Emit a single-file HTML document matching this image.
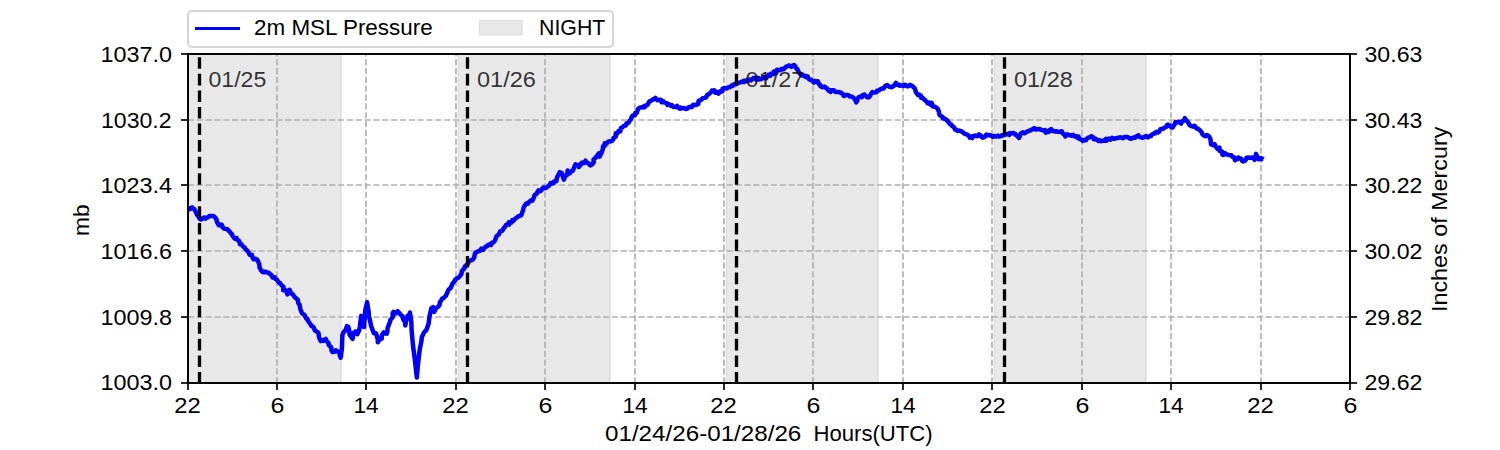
<!DOCTYPE html>
<html><head><meta charset="utf-8"><style>
html,body{margin:0;padding:0;background:#fff;width:1500px;height:450px;overflow:hidden}
svg{display:block}
text{font-family:"Liberation Sans", sans-serif;fill:#000}
</style></head><body>
<svg width="1500" height="450" viewBox="0 0 1500 450">
<rect x="0" y="0" width="1500" height="450" fill="#fff"/>
<rect x="187" y="54.0" width="155.10" height="329.50" fill="#e8e8e8"/>
<rect x="340" y="54.0" width="1" height="329.50" fill="#dddddd"/>
<rect x="458" y="54.0" width="153.10" height="329.50" fill="#e8e8e8"/>
<rect x="458" y="54.0" width="1" height="329.50" fill="#dddddd"/>
<rect x="609" y="54.0" width="1" height="329.50" fill="#dddddd"/>
<rect x="457" y="54.0" width="1" height="329.50" fill="#f4f4f4"/>
<rect x="726" y="54.0" width="153.10" height="329.50" fill="#e8e8e8"/>
<rect x="726" y="54.0" width="1" height="329.50" fill="#dddddd"/>
<rect x="877" y="54.0" width="1" height="329.50" fill="#dddddd"/>
<rect x="725" y="54.0" width="1" height="329.50" fill="#f4f4f4"/>
<rect x="994" y="54.0" width="153.10" height="329.50" fill="#e8e8e8"/>
<rect x="994" y="54.0" width="1" height="329.50" fill="#dddddd"/>
<rect x="1145" y="54.0" width="1" height="329.50" fill="#dddddd"/>
<rect x="993" y="54.0" width="1" height="329.50" fill="#f4f4f4"/>
<line x1="277" y1="382.5" x2="277" y2="54" stroke="#b0b0b0" stroke-width="1.67" stroke-dasharray="6.1667 2.6667" stroke-dashoffset="0.8"/>
<line x1="366" y1="382.5" x2="366" y2="54" stroke="#b0b0b0" stroke-width="1.67" stroke-dasharray="6.1667 2.6667" stroke-dashoffset="0.8"/>
<line x1="456" y1="382.5" x2="456" y2="54" stroke="#b0b0b0" stroke-width="1.67" stroke-dasharray="6.1667 2.6667" stroke-dashoffset="0.8"/>
<line x1="545" y1="382.5" x2="545" y2="54" stroke="#b0b0b0" stroke-width="1.67" stroke-dasharray="6.1667 2.6667" stroke-dashoffset="0.8"/>
<line x1="635" y1="382.5" x2="635" y2="54" stroke="#b0b0b0" stroke-width="1.67" stroke-dasharray="6.1667 2.6667" stroke-dashoffset="0.8"/>
<line x1="724" y1="382.5" x2="724" y2="54" stroke="#b0b0b0" stroke-width="1.67" stroke-dasharray="6.1667 2.6667" stroke-dashoffset="0.8"/>
<line x1="813" y1="382.5" x2="813" y2="54" stroke="#b0b0b0" stroke-width="1.67" stroke-dasharray="6.1667 2.6667" stroke-dashoffset="0.8"/>
<line x1="903" y1="382.5" x2="903" y2="54" stroke="#b0b0b0" stroke-width="1.67" stroke-dasharray="6.1667 2.6667" stroke-dashoffset="0.8"/>
<line x1="992" y1="382.5" x2="992" y2="54" stroke="#b0b0b0" stroke-width="1.67" stroke-dasharray="6.1667 2.6667" stroke-dashoffset="0.8"/>
<line x1="1082" y1="382.5" x2="1082" y2="54" stroke="#b0b0b0" stroke-width="1.67" stroke-dasharray="6.1667 2.6667" stroke-dashoffset="0.8"/>
<line x1="1171" y1="382.5" x2="1171" y2="54" stroke="#b0b0b0" stroke-width="1.67" stroke-dasharray="6.1667 2.6667" stroke-dashoffset="0.8"/>
<line x1="1261" y1="382.5" x2="1261" y2="54" stroke="#b0b0b0" stroke-width="1.67" stroke-dasharray="6.1667 2.6667" stroke-dashoffset="0.8"/>
<line x1="187.5" y1="317" x2="1350" y2="317" stroke="#b0b0b0" stroke-width="1.67" stroke-dasharray="6.1667 2.6667" stroke-dashoffset="-0.4"/>
<line x1="187.5" y1="251" x2="1350" y2="251" stroke="#b0b0b0" stroke-width="1.67" stroke-dasharray="6.1667 2.6667" stroke-dashoffset="-0.4"/>
<line x1="187.5" y1="185" x2="1350" y2="185" stroke="#b0b0b0" stroke-width="1.67" stroke-dasharray="6.1667 2.6667" stroke-dashoffset="-0.4"/>
<line x1="187.5" y1="120" x2="1350" y2="120" stroke="#b0b0b0" stroke-width="1.67" stroke-dasharray="6.1667 2.6667" stroke-dashoffset="-0.4"/>
<path d="M189.30,206.00 L189.72,209.23 L191.24,207.91 L192.06,207.40 L192.64,208.37 L193.96,208.85 L195.31,210.75 L197.18,215.02 L197.83,215.49 L199.77,218.88 L200.82,219.47 L202.80,218.24 L203.94,218.30 L204.13,217.46 L205.54,218.67 L206.49,217.83 L208.37,217.04 L209.38,216.04 L209.93,215.92 L212.26,215.97 L213.00,215.89 L214.58,216.91 L216.47,219.44 L216.94,221.81 L218.74,225.13 L220.37,224.53 L222.07,224.86 L222.30,227.13 L223.01,227.41 L223.96,228.67 L226.22,229.13 L227.50,229.22 L228.31,230.51 L229.46,231.34 L231.21,233.54 L231.96,234.06 L232.65,236.14 L234.94,238.78 L236.55,238.09 L237.18,239.80 L237.94,240.22 L239.17,241.16 L239.99,244.29 L241.44,244.24 L243.19,246.72 L244.03,246.89 L246.10,249.59 L247.86,251.30 L248.32,252.06 L249.77,254.85 L252.07,255.00 L252.15,256.94 L253.57,259.27 L255.24,258.78 L255.41,259.12 L257.09,259.45 L259.16,263.72 L259.59,267.56 L260.98,270.32 L262.49,272.09 L263.60,272.31 L263.98,271.60 L264.67,272.30 L265.94,271.71 L267.51,272.58 L269.06,273.00 L269.86,273.87 L271.36,275.00 L272.57,277.47 L274.83,277.23 L275.58,279.01 L277.08,279.87 L278.99,282.88 L279.51,282.86 L280.04,283.12 L281.55,285.25 L283.43,286.79 L283.24,290.29 L285.15,289.86 L286.27,290.93 L287.34,294.35 L289.23,292.08 L289.62,289.71 L290.57,292.36 L292.25,294.15 L293.03,294.69 L295.13,297.70 L296.53,298.64 L297.81,299.83 L298.14,302.74 L299.62,305.06 L300.37,309.01 L302.01,313.32 L304.63,315.02 L306.10,318.44 L307.63,319.30 L307.93,320.85 L309.36,322.65 L311.52,326.03 L313.34,326.95 L314.37,329.16 L314.79,330.35 L317.43,332.12 L318.50,332.95 L319.04,337.34 L320.73,341.06 L323.25,339.94 L323.84,340.92 L325.86,338.97 L326.14,340.40 L328.61,343.31 L328.63,344.82 L331.24,347.45 L331.49,350.21 L332.41,352.03 L335.20,351.53 L335.94,350.25 L337.29,351.62 L339.42,351.66 L339.60,354.44 L340.68,357.69 L341.91,348.52 L342.41,334.90 L343.77,331.91 L345.13,330.89 L345.87,328.92 L347.00,326.07 L348.34,326.94 L349.20,330.30 L349.51,334.66 L350.78,336.29 L352.66,338.82 L353.42,332.74 L355.09,332.63 L355.67,331.43 L357.30,334.21 L359.14,330.37 L359.80,326.57 L361.26,315.88 L361.63,319.01 L362.32,322.42 L363.07,324.07 L363.96,326.97 L365.32,309.53 L366.71,304.47 L367.10,302.28 L368.84,313.20 L368.69,316.52 L369.62,318.73 L371.02,325.67 L373.45,332.17 L373.80,333.13 L375.96,333.21 L377.61,338.68 L377.85,342.30 L379.49,339.62 L381.78,338.73 L381.81,335.20 L383.72,332.35 L384.51,333.30 L386.66,333.64 L387.39,331.57 L387.53,328.33 L389.90,322.03 L390.30,320.07 L392.76,317.04 L392.67,313.13 L393.56,311.91 L394.63,312.49 L395.98,313.34 L397.71,311.04 L397.74,311.62 L399.76,313.44 L400.34,314.33 L402.65,316.49 L403.02,318.96 L405.02,322.01 L405.23,325.48 L406.11,321.15 L407.63,315.65 L409.08,315.59 L409.93,312.48 L411.34,322.07 L411.68,331.26 L412.98,345.34 L414.80,359.57 L416.82,377.54 L417.60,368.29 L418.56,358.94 L419.80,348.93 L421.37,341.41 L421.85,336.94 L424.40,331.83 L425.31,331.22 L425.89,330.77 L426.83,328.71 L428.65,323.41 L429.45,316.73 L431.33,308.30 L432.20,307.66 L432.99,307.19 L434.31,311.83 L435.94,308.36 L437.00,307.65 L439.59,305.08 L439.88,302.13 L441.14,300.61 L442.15,298.58 L443.65,298.04 L446.11,295.45 L446.27,294.70 L447.70,291.68 L448.53,289.74 L450.61,288.01 L451.50,286.01 L452.51,283.48 L453.99,282.10 L455.27,279.60 L457.04,278.39 L458.84,277.36 L460.25,275.65 L461.35,274.13 L461.97,270.92 L464.08,268.53 L464.79,267.85 L464.84,266.50 L467.33,264.28 L468.17,263.35 L468.32,261.39 L470.01,260.74 L471.84,260.07 L472.83,259.56 L474.29,257.13 L474.87,253.67 L475.71,252.69 L476.67,252.04 L478.74,251.08 L480.20,250.70 L481.33,248.71 L483.18,249.85 L484.03,248.55 L485.60,246.70 L487.05,246.28 L487.32,245.48 L489.69,244.35 L491.03,245.05 L491.97,242.74 L493.27,242.40 L494.99,240.49 L496.06,237.54 L496.54,236.16 L498.73,234.67 L499.69,232.43 L500.12,231.39 L502.34,230.72 L503.58,228.24 L504.59,227.36 L505.77,225.34 L507.71,224.26 L509.11,224.62 L508.83,222.31 L511.53,222.55 L512.36,220.13 L513.40,220.74 L514.82,219.06 L516.13,218.05 L518.75,216.09 L519.86,215.82 L521.29,215.15 L521.57,214.47 L523.18,209.59 L523.61,207.65 L525.52,204.26 L526.27,203.46 L527.79,203.65 L528.52,202.55 L531.10,200.26 L532.48,200.67 L533.91,197.37 L534.53,195.23 L537.00,193.30 L537.33,192.07 L538.54,190.36 L539.61,191.21 L541.26,190.56 L542.33,188.32 L543.88,187.38 L544.80,188.30 L546.94,187.16 L547.86,186.56 L549.68,184.93 L550.65,183.01 L552.02,183.39 L553.40,183.32 L554.01,181.51 L556.38,181.18 L556.76,178.56 L557.58,176.33 L559.76,172.17 L560.60,172.56 L561.79,173.07 L562.47,175.26 L563.83,179.59 L565.43,175.62 L567.22,174.86 L567.62,170.51 L568.51,171.75 L570.05,173.10 L571.02,171.47 L572.68,170.85 L574.10,167.81 L574.56,166.40 L575.50,164.34 L576.10,164.88 L578.65,165.21 L579.01,166.99 L580.68,164.74 L580.83,163.48 L582.14,162.58 L584.36,163.00 L585.56,160.71 L585.55,161.76 L588.28,163.24 L589.14,164.20 L590.16,165.37 L592.19,164.35 L593.76,162.15 L593.47,159.47 L595.24,158.17 L597.01,155.79 L597.89,154.88 L598.93,153.41 L599.56,156.62 L601.01,153.82 L602.80,149.37 L603.10,146.15 L604.72,145.94 L604.68,143.35 L606.51,143.83 L607.47,142.39 L608.99,141.27 L609.68,141.61 L612.07,140.88 L613.28,139.38 L613.58,137.74 L615.74,136.75 L615.69,133.25 L617.33,133.35 L618.54,131.10 L620.27,131.24 L620.89,127.95 L622.39,127.48 L624.27,125.66 L625.78,125.53 L626.44,123.45 L628.32,122.79 L629.21,121.71 L629.35,121.11 L630.57,119.76 L631.99,116.31 L632.88,115.49 L634.91,115.34 L635.41,112.79 L636.84,112.74 L638.06,108.91 L639.26,107.87 L641.94,107.14 L642.85,107.39 L644.34,105.92 L644.32,107.26 L646.39,105.27 L647.60,104.70 L648.46,103.26 L649.47,101.21 L650.82,100.97 L653.08,99.47 L654.27,98.66 L654.47,99.01 L655.52,97.85 L655.60,98.62 L657.45,100.27 L658.48,99.73 L660.94,99.67 L661.49,102.25 L663.39,101.42 L663.56,102.34 L666.32,103.12 L667.40,104.88 L668.09,103.85 L670.43,104.96 L670.64,105.68 L672.06,105.21 L672.88,106.76 L675.67,106.99 L677.16,105.99 L677.47,107.31 L680.08,108.70 L680.62,107.49 L682.14,108.35 L684.38,108.00 L685.64,108.94 L687.14,108.74 L688.25,107.48 L689.25,107.28 L691.45,106.37 L691.84,107.03 L693.25,104.69 L694.23,104.94 L696.02,105.06 L698.26,103.90 L698.62,100.73 L699.70,100.47 L702.04,99.18 L702.59,98.20 L704.53,97.84 L706.06,97.30 L707.24,94.79 L708.85,94.25 L709.76,93.25 L711.38,91.69 L711.95,90.61 L713.15,90.85 L714.13,90.32 L715.17,92.65 L716.68,91.84 L718.49,93.64 L720.11,91.43 L720.61,92.00 L722.52,91.21 L722.56,88.85 L724.03,88.10 L726.74,88.44 L728.01,87.46 L729.25,87.11 L729.62,87.31 L732.05,85.29 L732.83,85.88 L733.57,84.79 L734.79,83.89 L736.31,84.22 L738.26,82.95 L738.56,82.82 L740.95,82.11 L741.68,81.75 L743.77,82.11 L743.94,80.72 L745.81,81.31 L747.54,79.90 L748.12,80.83 L749.86,79.52 L751.03,80.33 L752.37,78.81 L753.77,77.82 L755.91,79.27 L756.43,77.68 L758.34,77.87 L758.51,79.58 L760.52,79.12 L761.83,78.98 L763.26,77.12 L763.88,77.69 L766.23,78.20 L766.44,76.90 L767.99,75.98 L768.73,74.82 L770.33,75.64 L771.01,73.88 L773.47,74.13 L773.84,71.48 L776.37,72.55 L776.97,69.72 L779.01,70.10 L780.30,70.26 L781.49,68.90 L782.76,68.69 L783.65,69.24 L785.83,66.95 L786.35,66.60 L788.33,65.74 L789.05,65.44 L791.36,66.87 L791.62,66.14 L794.11,64.98 L795.34,66.26 L796.06,68.31 L797.20,68.87 L798.21,71.28 L799.55,73.25 L800.91,74.56 L801.58,75.48 L803.66,75.16 L805.44,76.88 L806.29,76.08 L807.66,76.44 L808.26,78.32 L809.35,79.52 L811.17,79.81 L812.52,81.08 L813.85,82.61 L814.67,81.02 L815.83,81.73 L817.72,81.20 L818.91,84.15 L820.05,84.81 L820.53,86.24 L822.35,87.24 L824.37,86.56 L825.16,86.95 L825.10,87.44 L827.31,88.78 L828.63,90.80 L829.83,90.37 L830.65,91.92 L831.51,90.33 L833.31,90.30 L833.91,90.15 L835.46,91.96 L837.64,92.02 L838.17,91.93 L839.23,92.22 L841.22,92.69 L842.75,93.97 L843.43,95.54 L844.01,96.04 L846.19,94.99 L847.80,94.96 L849.44,95.91 L849.78,96.58 L851.41,96.61 L853.39,97.66 L855.01,99.43 L856.22,102.36 L857.31,100.51 L858.05,97.90 L858.78,97.08 L860.89,96.55 L861.87,97.22 L862.41,95.40 L864.39,94.60 L864.50,94.98 L865.80,95.89 L867.13,97.28 L868.84,97.35 L870.20,95.59 L870.72,94.26 L872.37,92.01 L873.61,92.56 L876.33,92.36 L877.06,90.70 L877.92,91.02 L880.30,89.37 L881.93,88.58 L883.72,88.41 L883.94,87.99 L884.93,86.37 L886.83,84.92 L887.59,85.31 L888.87,86.46 L891.71,87.21 L891.84,87.06 L893.66,85.96 L895.48,83.76 L896.00,82.86 L896.92,84.70 L899.43,84.85 L899.53,85.68 L902.05,85.38 L903.39,85.90 L903.90,84.99 L905.25,84.71 L906.76,86.13 L908.67,86.20 L910.04,84.79 L910.89,85.39 L912.36,85.82 L912.62,86.31 L914.74,88.38 L915.61,90.93 L915.94,92.42 L918.04,94.98 L919.37,94.62 L920.91,95.62 L921.06,97.72 L922.86,98.07 L924.09,99.53 L924.95,100.05 L926.67,101.79 L927.60,103.19 L928.96,102.60 L929.54,103.62 L930.47,104.58 L931.73,102.96 L932.87,106.59 L934.45,106.51 L935.25,106.79 L937.61,108.59 L938.97,111.82 L939.31,114.50 L940.96,116.00 L942.86,117.16 L942.83,118.11 L945.36,119.28 L945.40,119.00 L946.73,119.98 L949.23,123.04 L950.21,124.42 L951.54,124.73 L952.01,125.82 L954.39,127.55 L955.01,129.53 L955.87,129.56 L957.63,130.97 L959.11,130.51 L961.40,131.31 L962.56,131.96 L962.58,132.18 L964.56,133.63 L965.75,134.15 L967.16,134.61 L968.78,135.87 L969.81,137.57 L969.68,136.99 L972.07,138.05 L972.03,136.33 L973.99,136.35 L974.82,135.51 L976.41,136.08 L977.59,136.15 L978.95,134.37 L980.95,135.66 L981.34,136.63 L982.63,137.63 L984.97,136.63 L986.20,134.68 L987.08,135.20 L989.09,134.96 L990.32,135.26 L990.23,135.63 L992.34,136.00 L992.83,136.84 L993.91,135.91 L995.71,136.56 L997.38,136.32 L998.06,135.62 L999.09,136.55 L1001.24,136.13 L1001.79,135.27 L1004.10,135.37 L1004.40,134.92 L1006.96,134.14 L1007.19,134.00 L1009.35,134.92 L1009.81,133.12 L1011.30,133.22 L1012.89,132.95 L1013.72,133.12 L1015.91,134.40 L1015.66,135.02 L1016.66,135.40 L1019.07,137.95 L1019.81,136.06 L1020.08,135.40 L1021.07,133.35 L1023.02,132.30 L1024.54,133.29 L1026.51,131.98 L1027.91,131.22 L1028.45,130.88 L1030.20,130.53 L1032.33,129.20 L1033.12,129.25 L1034.20,128.10 L1036.01,129.54 L1037.41,129.14 L1038.86,129.10 L1039.81,129.00 L1040.56,129.78 L1041.50,129.72 L1043.87,130.77 L1044.91,130.15 L1045.88,132.60 L1047.37,131.65 L1048.63,131.95 L1049.02,130.49 L1051.15,129.06 L1052.01,130.84 L1052.61,130.40 L1054.13,131.42 L1056.70,131.34 L1056.69,131.46 L1058.72,131.78 L1059.99,131.61 L1061.83,131.35 L1062.33,133.29 L1063.19,133.71 L1064.65,134.88 L1065.40,136.37 L1067.23,134.32 L1068.56,135.08 L1069.60,135.12 L1071.71,135.74 L1073.06,134.78 L1074.21,136.33 L1076.70,136.36 L1076.90,137.46 L1078.53,136.67 L1079.21,138.81 L1081.40,139.40 L1081.95,140.14 L1082.74,140.85 L1084.12,139.96 L1086.03,140.17 L1086.65,138.85 L1088.11,137.61 L1089.90,137.25 L1091.26,136.19 L1091.84,136.82 L1093.25,137.34 L1093.90,139.19 L1095.68,138.81 L1097.05,139.99 L1098.59,141.00 L1099.75,140.20 L1100.99,141.08 L1100.92,140.92 L1103.62,140.72 L1103.72,140.73 L1105.85,138.83 L1106.19,140.79 L1108.55,139.15 L1109.00,138.54 L1110.55,139.56 L1112.07,137.81 L1114.30,138.84 L1114.46,138.69 L1116.50,138.07 L1117.93,137.94 L1119.46,137.45 L1119.85,137.32 L1121.72,137.63 L1122.91,138.14 L1124.44,136.98 L1125.26,136.91 L1127.01,136.93 L1128.31,137.32 L1129.69,138.30 L1131.10,138.76 L1131.58,138.38 L1133.65,137.44 L1135.30,137.72 L1136.17,136.45 L1138.44,135.37 L1139.25,136.72 L1139.61,136.77 L1141.99,137.60 L1142.76,137.83 L1144.38,136.85 L1146.34,135.97 L1147.38,137.04 L1148.11,137.33 L1149.49,136.24 L1150.99,136.07 L1151.74,134.51 L1153.33,133.94 L1155.22,132.54 L1155.82,133.09 L1156.65,131.88 L1157.99,132.50 L1159.57,131.18 L1160.39,129.22 L1161.68,128.89 L1163.56,128.65 L1163.94,127.83 L1166.64,126.76 L1166.64,125.54 L1167.91,124.62 L1170.47,126.21 L1171.15,127.27 L1172.66,127.55 L1173.29,126.05 L1174.51,124.45 L1175.59,122.07 L1176.92,122.61 L1178.42,121.82 L1178.84,121.68 L1181.14,123.61 L1182.28,121.08 L1183.88,120.66 L1184.80,118.17 L1185.72,119.86 L1187.08,121.21 L1188.93,123.65 L1189.29,124.85 L1190.56,125.86 L1193.13,126.63 L1194.64,126.12 L1194.52,125.75 L1196.78,128.53 L1198.74,129.08 L1199.16,129.82 L1200.86,131.17 L1201.41,131.83 L1202.51,134.40 L1204.04,135.70 L1205.34,136.16 L1206.76,134.96 L1209.05,136.13 L1210.57,139.56 L1210.98,144.40 L1213.28,145.22 L1214.53,144.15 L1215.61,146.16 L1216.57,147.65 L1217.47,148.72 L1219.45,147.63 L1219.52,150.86 L1222.01,151.44 L1222.40,154.70 L1223.39,154.99 L1225.12,153.23 L1226.15,154.36 L1227.48,154.59 L1228.23,154.85 L1229.81,155.15 L1231.47,155.29 L1232.32,156.73 L1234.25,157.73 L1234.67,157.64 L1234.90,160.14 L1237.43,158.92 L1238.33,157.53 L1240.59,158.95 L1241.21,158.73 L1242.16,160.93 L1243.30,161.41 L1244.89,160.95 L1246.44,158.67 L1246.38,157.70 L1248.28,157.49 L1249.94,157.95 L1249.73,157.63 L1252.00,157.51 L1252.82,157.40 L1254.46,159.78 L1255.40,157.86 L1256.05,153.89 L1257.64,157.30 L1258.32,159.05 L1260.64,158.14 L1261.27,159.34 L1262.19,158.53 L1263.40,159.40" fill="none" stroke="#0000ff" stroke-width="4.5" stroke-linejoin="round" stroke-linecap="butt"/>
<line x1="199.5" y1="383.5" x2="199.5" y2="54" stroke="#000" stroke-width="3.3" stroke-dasharray="11.56 5"/>
<line x1="467.5" y1="383.5" x2="467.5" y2="54" stroke="#000" stroke-width="3.3" stroke-dasharray="11.56 5"/>
<line x1="736.5" y1="383.5" x2="736.5" y2="54" stroke="#000" stroke-width="3.3" stroke-dasharray="11.56 5"/>
<line x1="1004.5" y1="383.5" x2="1004.5" y2="54" stroke="#000" stroke-width="3.3" stroke-dasharray="11.56 5"/>
<rect x="187" y="53" width="2" height="331" fill="#050505"/>
<rect x="1349" y="53" width="2" height="331" fill="#050505"/>
<rect x="187" y="53" width="1164" height="2" fill="#050505"/>
<rect x="187" y="382" width="1164" height="2" fill="#050505"/>
<rect x="187" y="384" width="2" height="6" fill="#2a2a2a"/>
<rect x="276" y="384" width="2" height="6" fill="#2a2a2a"/>
<rect x="365" y="384" width="2" height="6" fill="#2a2a2a"/>
<rect x="455" y="384" width="2" height="6" fill="#2a2a2a"/>
<rect x="544" y="384" width="2" height="6" fill="#2a2a2a"/>
<rect x="634" y="384" width="2" height="6" fill="#2a2a2a"/>
<rect x="723" y="384" width="2" height="6" fill="#2a2a2a"/>
<rect x="812" y="384" width="2" height="6" fill="#2a2a2a"/>
<rect x="902" y="384" width="2" height="6" fill="#2a2a2a"/>
<rect x="991" y="384" width="2" height="6" fill="#2a2a2a"/>
<rect x="1081" y="384" width="2" height="6" fill="#2a2a2a"/>
<rect x="1170" y="384" width="2" height="6" fill="#2a2a2a"/>
<rect x="1260" y="384" width="2" height="6" fill="#2a2a2a"/>
<rect x="1349" y="384" width="2" height="6" fill="#2a2a2a"/>
<rect x="181" y="382" width="6" height="2" fill="#2a2a2a"/>
<rect x="1351" y="382" width="6" height="2" fill="#2a2a2a"/>
<rect x="181" y="316" width="6" height="2" fill="#2a2a2a"/>
<rect x="1351" y="316" width="6" height="2" fill="#2a2a2a"/>
<rect x="181" y="250" width="6" height="2" fill="#2a2a2a"/>
<rect x="1351" y="250" width="6" height="2" fill="#2a2a2a"/>
<rect x="181" y="184" width="6" height="2" fill="#2a2a2a"/>
<rect x="1351" y="184" width="6" height="2" fill="#2a2a2a"/>
<rect x="181" y="119" width="6" height="2" fill="#2a2a2a"/>
<rect x="1351" y="119" width="6" height="2" fill="#2a2a2a"/>
<rect x="181" y="53" width="6" height="2" fill="#2a2a2a"/>
<rect x="1351" y="53" width="6" height="2" fill="#2a2a2a"/>
<rect x="188" y="11" width="425" height="36" rx="4" ry="4" fill="#fff" fill-opacity="0.8" stroke="#d6d6d6" stroke-width="2"/>
<rect x="195" y="27" width="45" height="3" fill="#0000ff"/>
<rect x="479" y="20" width="43.5" height="15.3" fill="#e8e8e8"/>
<rect x="479" y="20" width="42.5" height="14.3" fill="none" stroke="#dddddd" stroke-width="1" transform="translate(0.5,0.5) scale(1)" />
<text x="187.50" y="413.00" font-size="22.70" textLength="26.40" lengthAdjust="spacingAndGlyphs" text-anchor="middle">22</text>
<text x="277.50" y="413.00" font-size="22.70" textLength="13.89" lengthAdjust="spacingAndGlyphs" text-anchor="middle">6</text>
<text x="366.00" y="413.00" font-size="22.70" textLength="25.25" lengthAdjust="spacingAndGlyphs" text-anchor="middle">14</text>
<text x="455.50" y="413.00" font-size="22.70" textLength="26.40" lengthAdjust="spacingAndGlyphs" text-anchor="middle">22</text>
<text x="545.50" y="413.00" font-size="22.70" textLength="13.89" lengthAdjust="spacingAndGlyphs" text-anchor="middle">6</text>
<text x="635.00" y="413.00" font-size="22.70" textLength="25.25" lengthAdjust="spacingAndGlyphs" text-anchor="middle">14</text>
<text x="723.50" y="413.00" font-size="22.70" textLength="26.40" lengthAdjust="spacingAndGlyphs" text-anchor="middle">22</text>
<text x="813.50" y="413.00" font-size="22.70" textLength="13.89" lengthAdjust="spacingAndGlyphs" text-anchor="middle">6</text>
<text x="903.00" y="413.00" font-size="22.70" textLength="25.25" lengthAdjust="spacingAndGlyphs" text-anchor="middle">14</text>
<text x="992.50" y="413.00" font-size="22.70" textLength="26.40" lengthAdjust="spacingAndGlyphs" text-anchor="middle">22</text>
<text x="1082.50" y="413.00" font-size="22.70" textLength="13.89" lengthAdjust="spacingAndGlyphs" text-anchor="middle">6</text>
<text x="1171.00" y="413.00" font-size="22.70" textLength="25.25" lengthAdjust="spacingAndGlyphs" text-anchor="middle">14</text>
<text x="1260.50" y="413.00" font-size="22.70" textLength="26.40" lengthAdjust="spacingAndGlyphs" text-anchor="middle">22</text>
<text x="1350.50" y="413.00" font-size="22.70" textLength="13.89" lengthAdjust="spacingAndGlyphs" text-anchor="middle">6</text>
<text x="172.00" y="390.00" font-size="22.70" textLength="71.48" lengthAdjust="spacingAndGlyphs" text-anchor="end">1003.0</text>
<text x="172.00" y="325.00" font-size="22.70" textLength="71.48" lengthAdjust="spacingAndGlyphs" text-anchor="end">1009.8</text>
<text x="172.00" y="259.00" font-size="22.70" textLength="71.48" lengthAdjust="spacingAndGlyphs" text-anchor="end">1016.6</text>
<text x="172.00" y="193.00" font-size="22.70" textLength="71.48" lengthAdjust="spacingAndGlyphs" text-anchor="end">1023.4</text>
<text x="171.50" y="128.00" font-size="22.70" textLength="70.47" lengthAdjust="spacingAndGlyphs" text-anchor="end">1030.2</text>
<text x="172.00" y="62.00" font-size="22.70" textLength="71.48" lengthAdjust="spacingAndGlyphs" text-anchor="end">1037.0</text>
<text x="1364.50" y="390.00" font-size="22.70" textLength="57.85" lengthAdjust="spacingAndGlyphs">29.62</text>
<text x="1364.50" y="325.00" font-size="22.70" textLength="57.85" lengthAdjust="spacingAndGlyphs">29.82</text>
<text x="1364.50" y="259.00" font-size="22.70" textLength="57.85" lengthAdjust="spacingAndGlyphs">30.02</text>
<text x="1364.50" y="193.00" font-size="22.70" textLength="57.85" lengthAdjust="spacingAndGlyphs">30.22</text>
<text x="1364.50" y="128.00" font-size="22.70" textLength="57.85" lengthAdjust="spacingAndGlyphs">30.43</text>
<text x="1364.50" y="62.00" font-size="22.70" textLength="57.85" lengthAdjust="spacingAndGlyphs">30.63</text>
<text x="605.00" y="441.00" font-size="22.70" textLength="196.33" lengthAdjust="spacingAndGlyphs">01/24/26-01/28/26</text>
<text x="813.50" y="441.00" font-size="22.70" textLength="119.18" lengthAdjust="spacingAndGlyphs">Hours(UTC)</text>
<text transform="translate(89.00,236.00) rotate(-90)" font-size="22.70" textLength="31.53" lengthAdjust="spacingAndGlyphs">mb</text>
<text transform="translate(1447.00,312.00) rotate(-90)" font-size="22.70" textLength="185.38" lengthAdjust="spacingAndGlyphs">Inches of Mercury</text>
<text x="254.00" y="35.00" font-size="22.70" textLength="178.70" lengthAdjust="spacingAndGlyphs">2m MSL Pressure</text>
<text x="539.00" y="35.00" font-size="22.70" textLength="66.38" lengthAdjust="spacingAndGlyphs">NIGHT</text>
<text x="208.50" y="87.00" font-size="22.70" textLength="57.81" lengthAdjust="spacingAndGlyphs" fill-opacity="0.8">01/25</text>
<text x="477.00" y="87.00" font-size="22.70" textLength="58.85" lengthAdjust="spacingAndGlyphs" fill-opacity="0.8">01/26</text>
<text x="745.50" y="87.00" font-size="22.70" textLength="58.85" lengthAdjust="spacingAndGlyphs" fill-opacity="0.8">01/27</text>
<text x="1014.00" y="87.00" font-size="22.70" textLength="58.85" lengthAdjust="spacingAndGlyphs" fill-opacity="0.8">01/28</text>
</svg>
</body></html>
